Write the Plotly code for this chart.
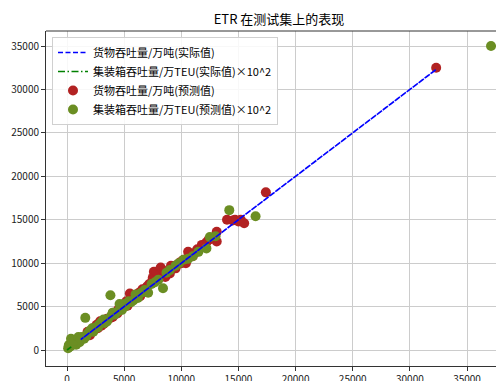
import plotly.graph_objects as go

# Cargo throughput (万吨): actual vs predicted (test-set order)
cargo_actual = [8300, 2100, 13100, 4700, 32300, 9900, 1500, 11400, 6100, 3800, 15000, 7200,
                2700, 10600, 5500, 8800, 1200, 12600, 6900, 4100, 14500, 9300, 3200, 7900,
                17400, 5000, 11000, 2400, 8100, 6600, 13100, 1800, 10200, 4400, 7600, 12200,
                2900, 9600, 5800, 14700, 3500, 8600, 11800, 6400, 15200, 5300, 9000, 7500,
                10400, 14000, 2000, 7800, 4500, 11200, 2600, 8200, 5200, 12400, 3000, 9100,
                5700, 15500, 3400, 8500, 6300, 10000, 4000, 9500, 7000, 12000]
cargo_pred = [9200, 2000, 13600, 4900, 32500, 10100, 1450, 11600, 6300, 3700, 14800, 7600,
              2500, 11300, 6500, 9000, 1300, 12900, 6700, 4300, 14900, 9600, 3000, 8500,
              18150, 5300, 10800, 2600, 8800, 7000, 12500, 2100, 10400, 4200, 9000, 12400,
              3300, 9800, 5900, 15000, 3600, 8400, 12100, 6200, 15000, 5100, 8800, 8300,
              10000, 15000, 1700, 9000, 4700, 11200, 2900, 9500, 5600, 12700, 2800, 9700,
              6100, 14600, 3300, 9100, 6600, 10000, 3800, 9400, 7300, 12000]

# Container throughput (万TEU) x 10^2: actual vs predicted
container_actual = [100, 200, 300, 400, 500, 600, 700, 800, 900, 1100, 1300, 1600, 1500, 1800,
                    2000, 2300, 2500, 2800, 3000, 3300, 3600, 3800, 3900, 4200, 4600, 4800, 5100,
                    5400, 5800, 6200, 6500, 7100, 7400, 8000, 8400, 9000, 9500, 10200, 11000,
                    11500, 12200, 12500, 13000, 14200, 16500, 37100,
                    150, 350, 450, 650, 1000, 1200, 1700, 2200, 2700, 3200, 3500, 4000, 4400,
                    5000, 5600, 6000, 6800, 7700, 8700, 9800, 10600]
container_pred = [200, 600, 400, 900, 1100, 700, 1000, 600, 1200, 900, 1500, 3700, 1300, 1900,
                  2200, 2100, 2600, 2900, 3200, 3100, 3600, 6300, 4000, 4100, 5300, 4600, 5000,
                  5600, 5700, 6000, 6600, 6600, 7600, 8100, 7100, 9200, 9700, 10400, 10800,
                  11300, 11700, 13000, 13100, 16100, 15400, 35000,
                  500, 1300, 600, 1100, 1500, 1200, 1600, 2500, 2600, 3500, 3300, 4300, 4400,
                  5300, 5500, 6400, 6900, 7800, 8900, 10000, 10500]
# Container actual line is drawn unscaled (万TEU)
container_line = [v / 100 for v in container_actual]

names = ["货物吞吐量/万吨(实际值)", "集装箱吞吐量/万TEU(实际值)×10^2",
         "货物吞吐量/万吨(预测值)", "集装箱吞吐量/万TEU(预测值)×10^2"]
title = "ETR 在测试集上的表现"
x_ticks = [0, 5000, 10000, 15000, 20000, 25000, 30000, 35000]
y_ticks = [0, 5000, 10000, 15000, 20000, 25000, 30000, 35000]

FONT = "Noto Sans CJK SC"
OFF = 8  # page offset of the figure inside the browser window

W, H = 504, 381
L, T = 46 - OFF, 31 - OFF
PW, PH = 458, 335
R = W - L - PW
B = H - T - PH

fig = go.Figure()
fig.add_trace(go.Scatter(x=cargo_actual, y=cargo_pred, mode="markers", name=names[2],
                         legendrank=3,
                         marker=dict(color="firebrick", size=10, line=dict(width=0))))
fig.add_trace(go.Scatter(x=container_actual, y=container_pred, mode="markers", name=names[3],
                         legendrank=4,
                         marker=dict(color="olivedrab", size=10, line=dict(width=0))))
fig.add_trace(go.Scatter(x=cargo_actual, y=cargo_actual, mode="lines", name=names[0],
                         legendrank=1,
                         line=dict(color="blue", dash="5px,2.5px", width=1.6)))
fig.add_trace(go.Scatter(x=container_line, y=container_line, mode="lines", name=names[1],
                         legendrank=2,
                         line=dict(color="green", dash="7px,2.5px,1.5px,2.5px", width=1.6)))

fig.update_layout(
    width=W, height=H,
    margin=dict(l=L, r=R, t=T, b=B),
    paper_bgcolor="white", plot_bgcolor="white",
    font=dict(family=FONT, size=10, color="black"),
    title=dict(text=title, x=(279 - OFF) / W, xanchor="center",
               y=1 - (19 - OFF) / H, yanchor="middle", font=dict(size=13, family=FONT)),
    showlegend=True,
    legend=dict(x=(52 - 46) / PW, y=1 - (37 - 31) / PH, xanchor="left", yanchor="top",
                bgcolor="rgba(255,255,255,0.85)", bordercolor="#d0d0d0", borderwidth=1,
                font=dict(size=11, family=FONT), traceorder="normal",
                tracegroupgap=0, itemwidth=30),
    xaxis=dict(range=[-1837, 38236], tickvals=x_ticks, ticktext=[str(v) for v in x_ticks],
               ticks="outside", ticklen=4, automargin=False,
               tickcolor="#333", showline=True, linecolor="#333", linewidth=1,
               showgrid=True, gridcolor="#cccccc", gridwidth=1, zeroline=False,
               tickfont=dict(size=10, color="#222")),
    yaxis=dict(range=[-1842, 36727], tickvals=y_ticks, ticktext=[str(v) for v in y_ticks],
               ticks="outside", ticklen=4, automargin=False,
               tickcolor="#333", showline=True, linecolor="#333", linewidth=1,
               showgrid=True, gridcolor="#cccccc", gridwidth=1, zeroline=False,
               tickfont=dict(size=10, color="#222")),
    shapes=[dict(type="line", xref="paper", yref="paper", x0=0, x1=1, y0=1, y1=1,
                 line=dict(color="#333", width=1))],
)

fig.write_html("out.html")
